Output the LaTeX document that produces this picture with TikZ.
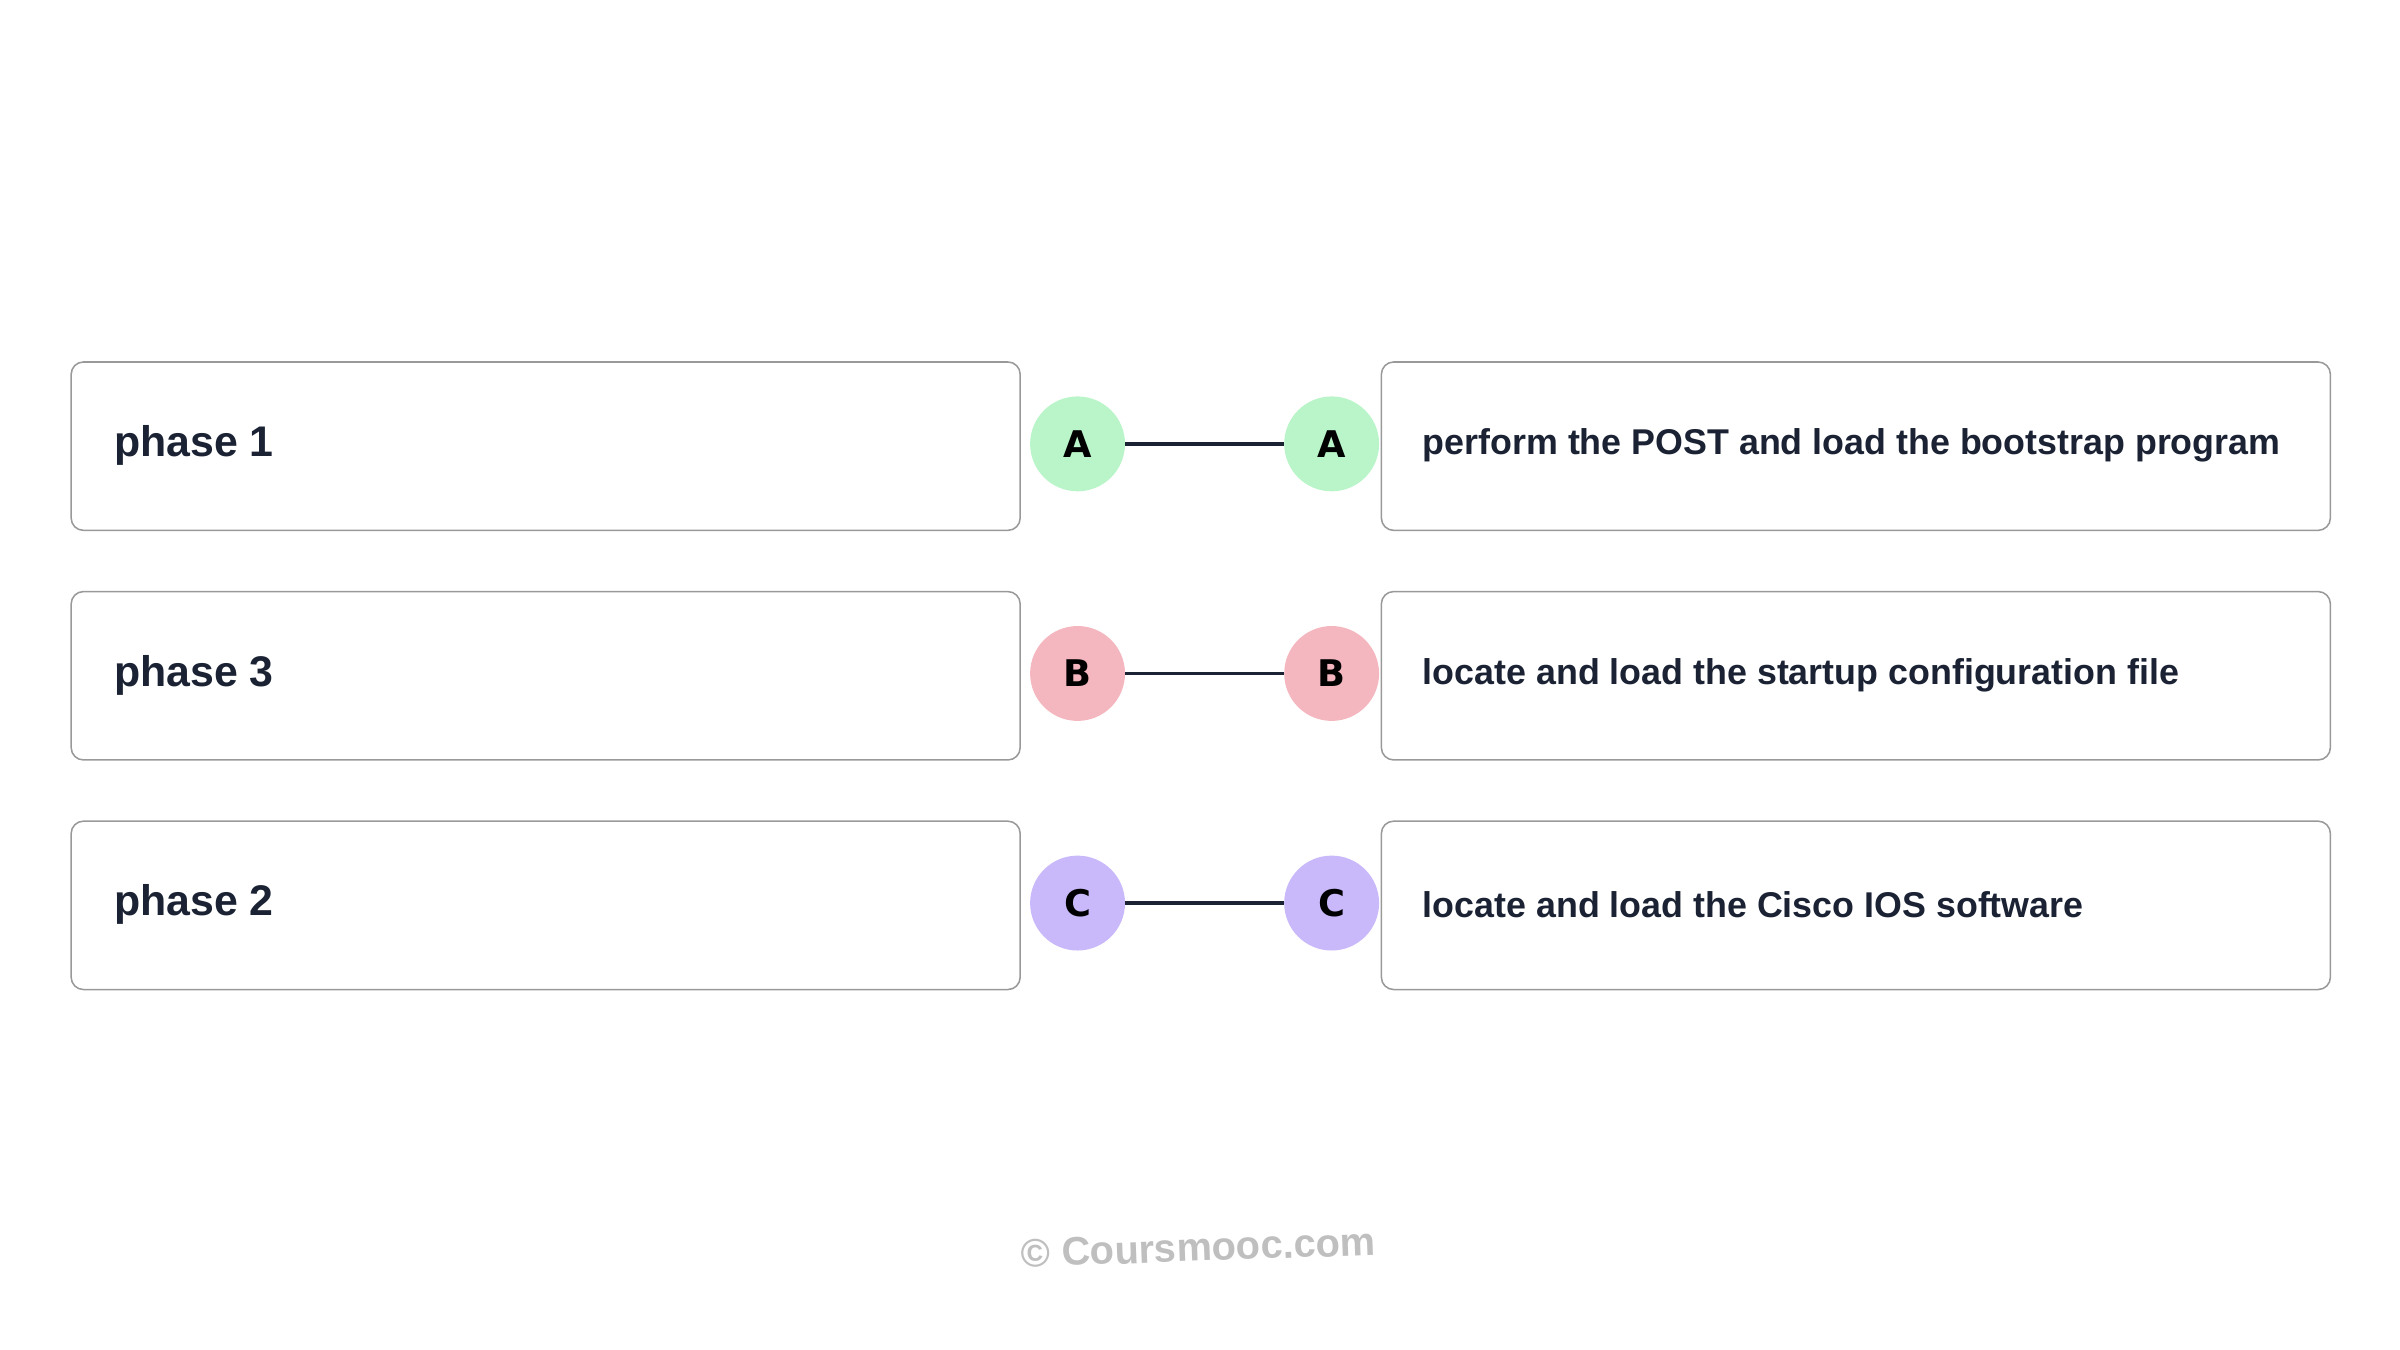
\documentclass[tikz,border=0pt]{standalone}
\usepackage{fontspec}
\setmainfont{Liberation Sans}
\newfontfamily\dejavu{DejaVu Sans}
\begin{document}
\begin{tikzpicture}[x=1pt,y=-1pt,
 box/.style={draw=black!40,line width=1pt,rounded corners=8pt,minimum width=620pt,minimum height=110pt,anchor=north west},
 lt/.style={anchor=west,font=\fontsize{28}{30}\selectfont\bfseries,text=txt},
 rt/.style={anchor=west,font=\fontsize{23.4}{25}\selectfont\bfseries,text=txt},
 dot/.style={circle,minimum size=62pt,inner sep=0pt,font=\dejavu\fontsize{24}{24}\selectfont\bfseries},
 link/.style={draw=txt,line width=2.5pt}]
\definecolor{txt}{HTML}{1A2233}
\definecolor{ga}{HTML}{B9F5C9}
\definecolor{pb}{HTML}{F5B7BF}
\definecolor{pc}{HTML}{C9B9FA}
\useasboundingbox (0,0) rectangle (1568,882);
\foreach \n/\y/\l/\r/\c/\L in {1/236/phase 1/perform the POST and load the bootstrap program/ga/A,2/386/phase 3/locate and load the startup configuration file/pb/B,3/536/phase 2/locate and load the Cisco IOS software/pc/C}{
 \node[box] (l\n) at (46,\y) {};
 \node[box] (r\n) at (902,\y) {};
 \node[lt] (lt\n) at (71,\y+55) {\l};
 \node[rt] (rt\n) at (926,\y+55) {\r};
 \node[dot,fill=\c] (a\n) at (704,\y+54) {\L};
 \node[dot,fill=\c] (b\n) at (870,\y+54) {\L};
 \draw[link] (a\n) -- (b\n);
}
\node[text=black!25,font=\fontsize{26}{26}\selectfont\bfseries,rotate=2] (wm) at (783,815) {© Coursmooc.com};
\end{tikzpicture}
\end{document}
